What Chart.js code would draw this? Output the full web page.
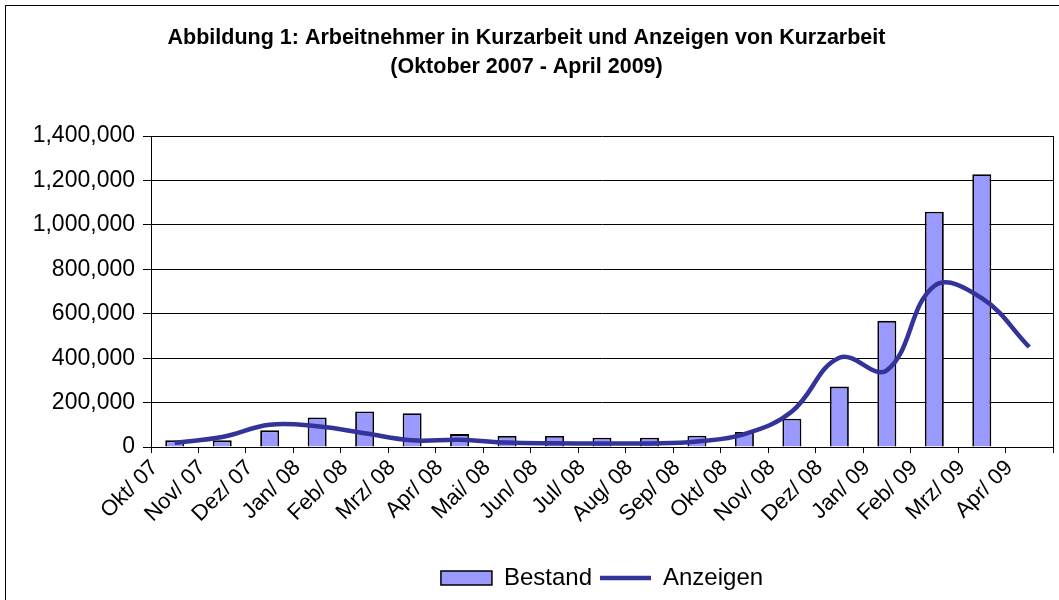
<!DOCTYPE html>
<html><head><meta charset="utf-8">
<script src="https://cdn.jsdelivr.net/npm/chart.js@4.4.1/dist/chart.umd.min.js"></script>
<style>
html,body{margin:0;padding:0;background:#fff;overflow:hidden;}
#wrap{position:relative;width:1059px;height:600px;overflow:hidden;}
#frame{position:absolute;left:5px;top:5px;width:1100px;height:700px;border-left:1px solid #000;border-top:1px solid #000;pointer-events:none;}
</style></head><body>
<div id="wrap"><canvas id="c" width="1059" height="600"></canvas><div id="frame"></div></div>
<script>
const categories = ["Okt/ 07","Nov/ 07","Dez/ 07","Jan/ 08","Feb/ 08","Mrz/ 08","Apr/ 08","Mai/ 08","Jun/ 08","Jul/ 08","Aug/ 08","Sep/ 08","Okt/ 08","Nov/ 08","Dez/ 08","Jan/ 09","Feb/ 09","Mrz/ 09","Apr/ 09"];
const bestand = [30000,30000,75000,133000,160000,152000,58000,50000,50000,42000,42000,51000,68000,127000,272000,568000,1059000,1228000,null];
const anzeigen = [19000,45000,100000,93000,62000,30000,33000,20000,17000,16000,16000,25000,58000,160000,402000,345000,725000,670000,450000];
const yMin = 0, yMax = 1400000, yStep = 200000;
const titleLines = ["Abbildung 1: Arbeitnehmer in Kurzarbeit und Anzeigen von Kurzarbeit","(Oktober 2007 - April 2009)"];

const FONT = "'Liberation Sans', Arial, sans-serif";

const framePlugin = {
  id: 'plotFrame',
  beforeDatasetsDraw(chart) {
    const {ctx, chartArea: a} = chart;
    ctx.save();
    ctx.strokeStyle = '#000';
    ctx.lineWidth = 1;
    ctx.beginPath();
    ctx.moveTo(Math.round(a.right) + 0.5, a.top);
    ctx.lineTo(Math.round(a.right) + 0.5, a.bottom + 6);
    ctx.stroke();
    ctx.restore();
  }
};

new Chart(document.getElementById('c'), {
  data: {
    labels: categories,
    datasets: [
      {type: 'bar', label: 'Bestand', data: bestand, backgroundColor: '#9999FF', borderColor: '#000', borderWidth: 1.8, categoryPercentage: 1, barPercentage: 0.4, order: 1},
      {type: 'line', label: 'Anzeigen', data: anzeigen, borderColor: '#333399', backgroundColor: '#333399', borderWidth: 4.5, pointRadius: 0, tension: 0.4, fill: false, order: 0}
    ]
  },
  options: {
    responsive: false, animation: false, devicePixelRatio: 1,
    layout: {padding: {left: 0, right: 6, top: 0, bottom: 0}},
    plugins: {
      tooltip: {enabled: false},
      title: {display: true, text: titleLines, color: '#000', font: {family: FONT, size: 21.5, weight: 'bold', lineHeight: 1.35}, padding: {top: 24, bottom: 54}},
      legend: {
        position: 'bottom',
        fullSize: false,
        labels: {
          color: '#000', font: {family: FONT, size: 24}, boxWidth: 51, boxHeight: 14, usePointStyle: true, pointStyleWidth: 51, padding: 8,
          generateLabels(chart) {
            const items = Chart.defaults.plugins.legend.labels.generateLabels(chart);
            items.sort((p, q) => p.datasetIndex - q.datasetIndex);
            items.forEach(it => {
              if (it.datasetIndex === 0) { it.pointStyle = 'rect'; it.fillStyle = '#9999FF'; it.strokeStyle = '#000'; it.lineWidth = 1.5; }
              else { it.pointStyle = 'line'; it.strokeStyle = '#333399'; it.lineWidth = 4.5; }
            });
            return items;
          }
        }
      }
    },
    scales: {
      x: {
        offset: true,
        grid: {display: true, offset: true, drawOnChartArea: false, drawTicks: true, tickLength: 6, color: '#000'},
        border: {display: true, color: '#000', width: 1},
        ticks: {color: '#000', font: {family: FONT, size: 22}, minRotation: 45, maxRotation: 45, autoSkip: false, padding: 2, labelOffset: -20},
        afterFit(s) { s.height = 111; }
      },
      y: {
        min: yMin, max: yMax,
        grid: {color: '#000', lineWidth: 1, tickLength: 8, drawTicks: true},
        border: {display: true, color: '#000', width: 1},
        ticks: {stepSize: yStep, color: '#000', font: {family: FONT, size: 23}, padding: 8, callback: v => v.toLocaleString('en-US')},
        afterFit(s) { s.width = 151; }
      }
    }
  },
  plugins: [framePlugin]
});
</script>
</body></html>
